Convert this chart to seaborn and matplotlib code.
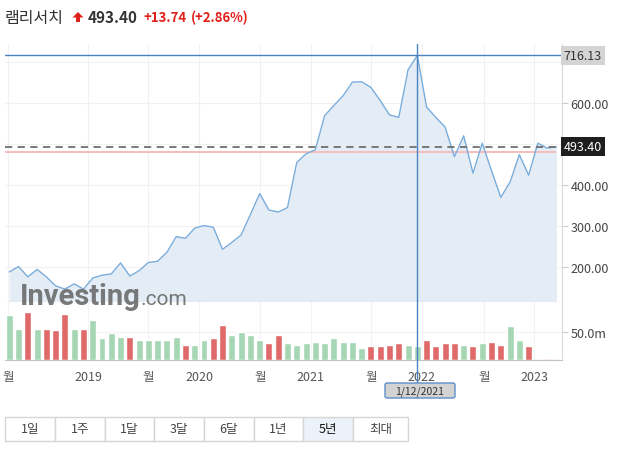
import numpy as np
import pandas as pd
import seaborn as sns
import matplotlib.pyplot as plt
from matplotlib.patches import Rectangle, Polygon, FancyBboxPatch
from matplotlib.transforms import blended_transform_factory

# header values
stock_name = '램리서치'
last_price = 493.40
change = 13.74
change_pct = 2.86
prev_close = 479.66
peak_price = 716.13
peak_date = '1/12/2021'

# monthly closes
price = [188, 201, 176, 194, 176, 154, 146, 159, 146, 173,
         180, 183, 210, 178, 191, 211, 214, 236, 274, 270,
         295, 301, 297, 243, 260, 278, 328, 379, 339, 334,
         345, 455, 476, 486, 569, 594, 618, 651, 652, 638,
         606, 571, 565, 681, 716.13, 590, 565, 541, 469, 520,
         429, 502, 435, 370, 407, 474, 424, 502, 490, 493.40]

# monthly volume in millions
volume = [81, 57, 86, 57, 57, 55, 83, 57, 57, 72,
          39, 48, 41, 41, 37, 37, 36, 37, 41, 28,
          28, 36, 39, 63, 46, 50, 45, 36, 30, 45,
          30, 27, 30, 32, 31, 39, 32, 32, 21, 26,
          26, 28, 31, 28, 26, 36, 25, 31, 31, 28,
          25, 31, 32, 28, 61, 37, 25, 2.2, 2.2, 2.2]

x_tick_pos = [-0.1, 8.5, 15, 20.5, 27, 32.5, 39, 44.5, 51.2, 56.6]
x_tick_labels = ['월', '2019', '월', '2020', '월', '2021', '월', '2022', '월', '2023']
y_ticks = [200, 300, 400, 500, 600, 700]
ranges = ['1일', '1주', '1달', '3달', '6달', '1년', '5년', '최대']
active_range = '5년'

W, H = 627, 452
sns.set_style('white')
plt.rcParams['font.family'] = ['Noto Sans CJK KR', 'DejaVu Sans']


def fx(px):
    return px / W


def fy(py):
    return 1 - py / H


df = pd.DataFrame({'i': np.arange(len(price)), 'price': price, 'volume': volume})
df['dir'] = np.where(df['price'].diff().fillna(1) >= 0, 'up', 'down')

fig = plt.figure(figsize=(W / 100, H / 100), dpi=100)
ax = fig.add_axes([fx(5), fy(303), fx(562) - fx(5), fy(45) - fy(303)])
axv = fig.add_axes([fx(5), fy(361), fx(562) - fx(5), fy(303) - fy(361)])
xlim = (-0.46, 59.6)

# price panel
ax.fill_between(df['i'], df['price'], 0, color='#e4edf6', lw=0, zorder=1)
sns.lineplot(data=df, x='i', y='price', color='#7aaddb', lw=1, ax=ax, zorder=3)
ax.set_xlim(xlim)
ax.set_ylim(114.6, 744)
ax.set_xticks(x_tick_pos)
ax.tick_params(axis='x', length=0, labelbottom=False)
ax.set_yticks(y_ticks)
ax.set_yticklabels(['' if t in (500, 700) else f'{t:.2f}' for t in y_ticks])
ax.yaxis.tick_right()
ax.tick_params(axis='y', length=4, color='#cccccc', labelsize=9, labelcolor='#444444', pad=2)
ax.grid(True, color='#f1f1f1', lw=0.8)
ax.set_axisbelow(True)
ax.set_xlabel('')
ax.set_ylabel('')
for s in ['top', 'left']:
    ax.spines[s].set_visible(False)
ax.spines['right'].set_color('#dadada')
ax.spines['bottom'].set_color('#c4c4c4')

peak_i = price.index(peak_price)
ax.axhline(peak_price, color='#4a83c2', lw=1, zorder=5)
ax.axvline(peak_i, color='#4a83c2', lw=1, zorder=5)
ax.axhline(last_price, color='#6f6f6f', lw=1.3, ls=(0, (4, 3)), zorder=4)
ax.hlines(prev_close, xlim[0], df['i'].iloc[-1], color='#f6bcbc', lw=1.4, zorder=2)

trans = blended_transform_factory(ax.transAxes, ax.transData)
ax.text(1.003, peak_price, f'{peak_price:.2f}', transform=trans, ha='left', va='center',
        fontsize=9, color='#333333', zorder=10, clip_on=False,
        bbox=dict(boxstyle='square,pad=0.25', fc='#d4d4d4', ec='none'))
ax.text(1.003, last_price, f'{last_price:.2f}', transform=trans, ha='left', va='center',
        fontsize=9, color='white', zorder=10, clip_on=False,
        bbox=dict(boxstyle='square,pad=0.25', fc='#1e1e1e', ec='none'))

# volume panel
sns.barplot(data=df, x='i', y='volume', hue='dir', palette={'up': '#a6d7b5', 'down': '#e06a6a'},
            native_scale=True, width=0.75, dodge=False, errorbar=None, saturation=1,
            legend=False, ax=axv)
# the unfinished months at the end are drawn faint
for bar in axv.patches:
    if bar.get_height() < 5:
        bar.set_alpha(0.35)
axv.set_xlim(xlim)
axv.set_ylim(0, 105)
axv.set_xticks(x_tick_pos)
axv.set_xticklabels(x_tick_labels)
axv.tick_params(axis='x', length=3, color='#cccccc', labelsize=9, labelcolor='#555555', pad=4)
axv.set_yticks([50])
axv.set_yticklabels(['50.0m'])
axv.yaxis.tick_right()
axv.tick_params(axis='y', length=4, color='#cccccc', labelsize=9, labelcolor='#444444', pad=2)
axv.grid(True, color='#f3f3f3', lw=0.8)
axv.set_axisbelow(True)
axv.set_xlabel('')
axv.set_ylabel('')
for s in ['top', 'left']:
    axv.spines[s].set_visible(False)
axv.spines['right'].set_color('#dadada')
axv.spines['bottom'].set_color('#c4c4c4')
axv.axvline(peak_i, ymin=-0.41, ymax=1, color='#4a83c2', lw=1, zorder=5, clip_on=False)

# date label under crosshair
fig.add_artist(FancyBboxPatch((fx(385), fy(399)), fx(455) - fx(385), fy(384) - fy(399),
                              boxstyle='round,pad=0,rounding_size=0.004',
                              transform=fig.transFigure, fc='#d3d3d3', ec='#5d8fc9', lw=1))
fig.text(fx(420), fy(391.5), peak_date, ha='center', va='center', fontsize=7.5, color='#333333')

# watermark
fig.text(fx(20), fy(305), 'Investing', fontsize=21, fontweight='bold', family='Roboto',
         color='#6a6a6a', va='baseline', alpha=0.9)
fig.text(fx(141), fy(305), '.com', fontsize=15, family='Roboto', color='#6a6a6a',
         va='baseline', alpha=0.9)

# header
fig.text(fx(5), fy(18), stock_name, fontsize=11.5, color='#333333', va='center')
arrow = [(78, 13), (83.5, 18.5), (80, 18.5), (80, 23), (76, 23), (76, 18.5), (72.5, 18.5)]
fig.add_artist(Polygon([(fx(a), fy(b)) for a, b in arrow], closed=True,
                       transform=fig.transFigure, fc='#e0201b', ec='none'))
fig.text(fx(88), fy(18), f'{last_price:.2f}', fontsize=11, fontweight='bold', color='#333333', va='center')
fig.text(fx(143), fy(18), f'+{change:.2f}', fontsize=9.5, fontweight='bold', color='#e0201b', va='center')
fig.text(fx(191), fy(18), f'(+{change_pct:.2f}%)', fontsize=9.5, fontweight='bold', color='#e0201b', va='center')

# range buttons
edges = [5, 55, 105, 154, 204, 254, 303, 353, 408]
for k, lab in enumerate(ranges):
    x0, x1 = edges[k], edges[k + 1]
    fc = '#ebf2f9' if lab == active_range else 'white'
    fig.add_artist(Rectangle((fx(x0), fy(442)), fx(x1) - fx(x0), fy(418) - fy(442),
                             transform=fig.transFigure, fc=fc, ec='#d6d6d6', lw=1))
    fig.text(fx((x0 + x1) / 2), fy(430), lab, ha='center', va='center', fontsize=9,
             color='#111111' if lab == active_range else '#444444')

fig.savefig('out.png', dpi=100)
